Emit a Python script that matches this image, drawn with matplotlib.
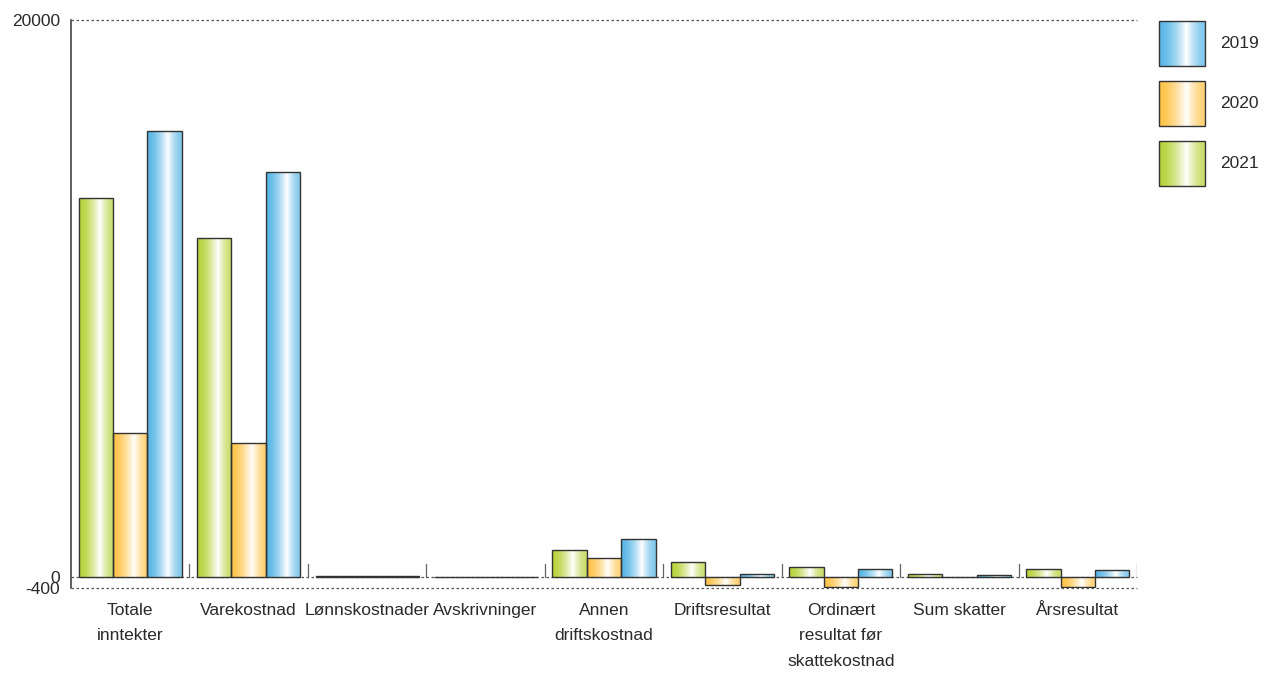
import numpy as np
import matplotlib
matplotlib.use("Agg")
import matplotlib.pyplot as plt
from matplotlib.colors import to_rgb

plt.rcParams['font.family'] = ['Liberation Sans', 'DejaVu Sans']

categories = ["Totale\ninntekter", "Varekostnad", "Lønnskostnader", "Avskrivninger",
              "Annen\ndriftskostnad", "Driftsresultat",
              "Ordinært\nresultat før\nskattekostnad", "Sum skatter", "Årsresultat"]
years = ["2021", "2020", "2019"]
v2021 = [13600, 12180, 25, 8, 960, 540, 360, 85, 290]
v2020 = [5170, 4810, 20, 6, 680, -300, -370, -10, -370]
v2019 = [16020, 14550, 25, 8, 1365, 110, 290, 75, 230]
series = [v2021, v2020, v2019]
colors = ["#b7d23a", "#ffc347", "#58b6e6"]

ymin, ymax = -400, 20000


def gradient(color, n=64, peak=0.6):
    c = np.array(to_rgb(color))
    t = np.linspace(0, 1, n)
    w = np.where(t < peak, t / peak, (1 - t) / (1 - peak))
    w = w ** 1.6
    w = np.where(t < peak, w, 0.25 + 0.75 * w)
    row = c[None, :] + (1 - c[None, :]) * w[:, None]
    return row[None, :, :]


fig = plt.figure(figsize=(12.64, 6.75), dpi=100)
ax = fig.add_axes([71 / 1264, 1 - 588 / 675, (1137 - 71) / 1264, (588 - 20) / 675])

x = np.arange(len(categories))
bw = 0.29
for i, (vals, col) in enumerate(zip(series, colors)):
    bars = ax.bar(x + (i - 1) * bw, vals, bw, facecolor="none",
                  edgecolor="#333333", linewidth=1.0, zorder=3)
    grad = gradient(col)
    for b in bars:
        x0, y0 = b.get_x(), b.get_y()
        x1, y1 = x0 + b.get_width(), y0 + b.get_height()
        im = ax.imshow(grad, extent=(x0, x1, min(y0, y1), max(y0, y1)),
                       aspect="auto", interpolation="bilinear", zorder=2)
        im.set_clip_path(b)

# dotted reference lines and group separators
for yv in (ymax, 0, ymin):
    ax.axhline(yv, color="#555555", linestyle=(0, (2, 2)), linewidth=0.9,
               zorder=1, clip_on=False)
for sep in np.arange(len(categories)) + 0.5:
    ax.plot([sep, sep], [0, 450], color="#666666", linewidth=0.9, zorder=1)

ax.set_xlim(-0.5, len(categories) - 0.5)
ax.set_ylim(ymin, ymax)
ax.set_yticks([ymax, 0, ymin])
ax.set_yticklabels(["20000", "0", "-400"], fontsize=12.5, color="#2a2a2a")
ax.set_xticks(x)
ax.set_xticklabels(categories, fontsize=12.5, color="#2a2a2a", linespacing=1.85)
ax.tick_params(axis="both", length=0)
ax.tick_params(axis="x", pad=11)
ax.tick_params(axis="y", pad=8)
for s in ("top", "right", "bottom"):
    ax.spines[s].set_visible(False)
ax.spines["left"].set_color("#444444")
ax.spines["left"].set_linewidth(1.2)

# legend with gradient swatches
lax = fig.add_axes([1150 / 1264, 1 - 200 / 675, 114 / 1264, 190 / 675])
lax.axis("off")
legend_order = [2, 1, 0]
for k, idx in enumerate(legend_order):
    top = 21 + k * 60
    lax.imshow(gradient(colors[idx]), extent=(1159, 1205, top + 45, top),
               aspect="auto", interpolation="bilinear")
    lax.add_patch(plt.Rectangle((1159, top), 46, 45, facecolor="none",
                                edgecolor="#333333", linewidth=1.0))
    lax.text(1220, top + 23, years[idx], fontsize=12.5, color="#2a2a2a", va="center")
lax.set_xlim(1150, 1264)
lax.set_ylim(200, 10)

fig.savefig("out.png", dpi=100)
